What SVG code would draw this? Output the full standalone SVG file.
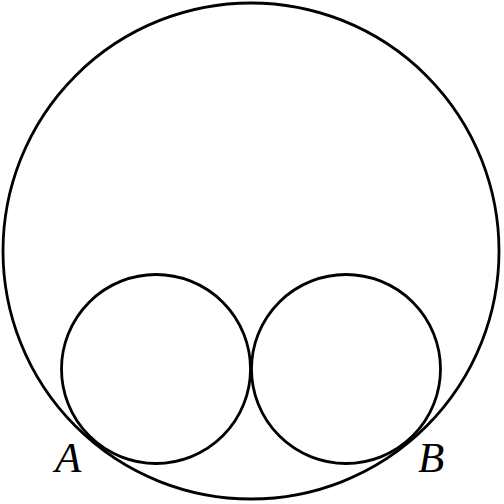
<svg xmlns="http://www.w3.org/2000/svg" width="504" height="504" viewBox="0 0 504 504">
<style>
.c{fill:none;stroke:#000;stroke-width:2.8}
.l{font-family:"Liberation Serif",serif;font-style:italic;font-size:43px;fill:#000}
</style>
<rect width="504" height="504" fill="#fff"/>
<g id="outer"><circle class="c" cx="251" cy="251" r="248"/></g>
<g id="left"><circle class="c" cx="156" cy="369" r="94.5"/></g>
<g id="right"><circle class="c" cx="346" cy="369" r="94.5"/></g>
<g id="connectors"></g>
<g id="labelA"><text class="l" x="55" y="472">A</text></g>
<g id="labelB"><text class="l" x="418" y="472">B</text></g>
</svg>
